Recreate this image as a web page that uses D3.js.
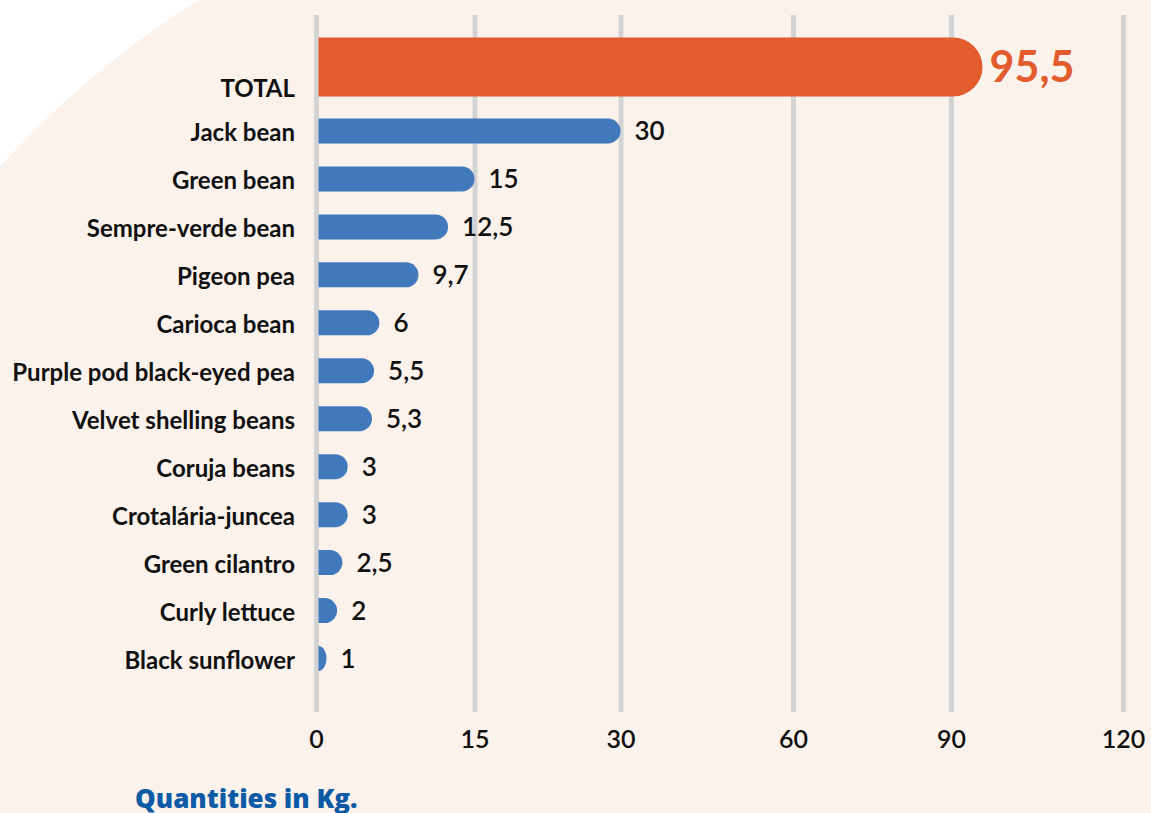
<!DOCTYPE html>
<html>
<head>
<meta charset="utf-8">
<script src="https://cdn.jsdelivr.net/npm/d3@7"></script>
<style>
  html, body { margin: 0; padding: 0; background: #ffffff; }
  svg { display: block; }
</style>
</head>
<body>
<svg id="chart" width="1151" height="813"></svg>
<script>
// ---- data ----
const categories = [
  "Jack bean", "Green bean", "Sempre-verde bean", "Pigeon pea", "Carioca bean",
  "Purple pod black-eyed pea", "Velvet shelling beans", "Coruja beans",
  "Crotalária-juncea", "Green cilantro", "Curly lettuce", "Black sunflower"
];
const values = [30, 15, 12.5, 9.7, 6, 5.5, 5.3, 3, 3, 2.5, 2, 1];
const totalLabel = "TOTAL";
const totalValue = 95.5;
const tickValues = [0, 15, 30, 60, 90, 120];
const unitNote = "Quantities in Kg.";

// ---- layout ----
const W = 1151, H = 813;
const tickPixels = [316, 474.5, 620.5, 793, 951, 1123]; // axis as drawn (uneven spacing)
const gridTop = 15, gridBottom = 712;
const gridW = 5;
const barH = 25, totalH = 59;

const svg = d3.select("#chart");

// background: white with big peach disc
svg.append("rect").attr("width", W).attr("height", H).attr("fill", "#ffffff");
svg.append("circle").attr("cx", 700).attr("cy", 800).attr("r", 944).attr("fill", "#fbf2ec");

const x = d3.scaleLinear().domain(tickValues).range(tickPixels);
const y = d3.scalePoint().domain(categories).range([131, 658.5]);
const totalY = y(categories[0]) - 64;

const fmt = d3.formatLocale({decimal: ",", thousands: ".", grouping: [3], currency: ["", ""]}).format(".3~g");

// axis / gridlines
const axis = d3.axisBottom(x)
  .tickValues(tickValues)
  .tickSize(-(gridBottom - gridTop))
  .tickPadding(18)
  .tickFormat(d3.format("d"));
const gAxis = svg.append("g")
  .attr("transform", `translate(0,${gridBottom})`)
  .call(axis);
gAxis.select(".domain").remove();
gAxis.selectAll(".tick line")
  .attr("stroke", "#d2d3d5")
  .attr("stroke-width", gridW);
gAxis.selectAll(".tick text")
  .attr("fill", "#111")
  .style("font-family", "Lato, 'Open Sans', sans-serif")
  .style("font-weight", 600)
  .style("font-size", "25px");

// bar path with rounded right end
function barPath(x0, x1, yc, h) {
  const w = Math.max(0, x1 - x0);
  const r = Math.min(h / 2, w);
  const top = yc - h / 2, bot = yc + h / 2;
  return `M${x0},${top} L${x1 - r},${top} A${r},${h/2} 0 0 1 ${x1 - r},${bot} L${x0},${bot} Z`;
}
const x0 = x(0) + gridW / 2;

// total row
svg.append("path")
  .attr("d", barPath(x0, x(totalValue), totalY, totalH))
  .attr("fill", "#e35c2e");
svg.append("text")
  .attr("x", 295).attr("y", totalY + totalH / 2)
  .attr("text-anchor", "end")
  .attr("fill", "#111")
  .style("font-family", "Lato, sans-serif").style("font-weight", 700).style("font-size", "24px")
  .text(totalLabel);
svg.append("text")
  .attr("x", x(totalValue) + 7).attr("y", totalY + 15)
  .attr("fill", "#e35c2e")
  .style("font-family", "Lato, sans-serif").style("font-weight", 700).style("font-size", "43px")
  .text(fmt(totalValue));

// item rows
const rows = categories.map((c, i) => ({c, v: values[i]}));
const g = svg.append("g");
g.selectAll("path.bar").data(rows).join("path")
  .attr("class", "bar")
  .attr("d", d => barPath(x0, x(d.v), y(d.c), barH))
  .attr("fill", "#4179bd");
g.selectAll("text.cat").data(rows).join("text")
  .attr("class", "cat")
  .attr("x", 295).attr("y", d => y(d.c) + 10)
  .attr("text-anchor", "end")
  .attr("fill", "#111")
  .style("font-family", "Lato, sans-serif").style("font-weight", 700).style("font-size", "24px")
  .text(d => d.c);
g.selectAll("text.val").data(rows).join("text")
  .attr("class", "val")
  .attr("x", d => x(d.v) + 14).attr("y", d => y(d.c) + 9)
  .attr("fill", "#111")
  .style("font-family", "Lato, sans-serif").style("font-weight", 600).style("font-size", "26px")
  .text(d => fmt(d.v));

// unit note
svg.append("text")
  .attr("x", 135).attr("y", 808)
  .attr("fill", "#0d5ba6")
  .style("font-family", "'Open Sans', sans-serif").style("font-weight", 800).style("font-size", "26px")
  .text(unitNote);
</script>
</body>
</html>
